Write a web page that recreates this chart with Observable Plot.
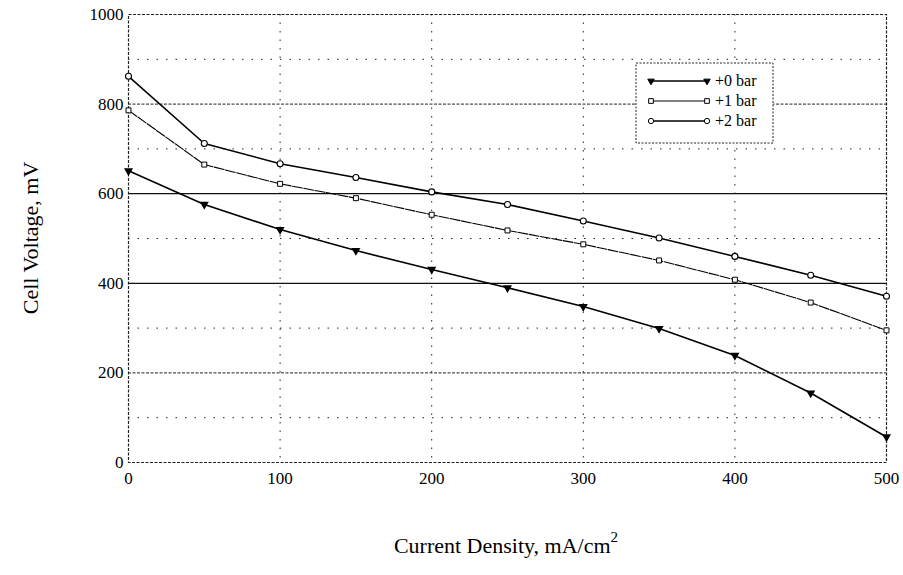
<!DOCTYPE html>
<html><head><meta charset="utf-8">
<script src="https://cdn.jsdelivr.net/npm/d3@7"></script>
<script src="https://cdn.jsdelivr.net/npm/@observablehq/plot@0.6"></script>
<style>body{margin:0;background:#fff}</style>
</head><body><div id="chart"></div>
<script>
const currentDensity = [0, 50, 100, 150, 200, 250, 300, 350, 400, 450, 500];
const bar0 = [651, 576, 520, 473, 431, 390, 348, 299, 239, 155, 57];
const bar1 = [786, 665, 622, 590, 553, 518, 487, 451, 408, 357, 295];
const bar2 = [862, 712, 667, 636, 604, 576, 539, 501, 460, 418, 371];
const seriesNames = ["+0 bar", "+1 bar", "+2 bar"];
const xTicks = [0, 100, 200, 300, 400, 500];
const yTicks = [0, 200, 400, 600, 800, 1000];
const solidGrid = [400, 600];
const denseGrid = [200, 800];
const sparseGrid = [100, 300, 500, 700, 900];
const xGrid = [100, 200, 300, 400];

const rows = [];
[bar0, bar1, bar2].forEach((arr, s) => arr.forEach((v, i) => rows.push({x: currentDensity[i], y: v, s: seriesNames[s]})));

const font = "'Liberation Serif', 'DejaVu Serif', serif";
const plot = Plot.plot({
  width: 903, height: 575,
  marginLeft: 128, marginRight: 17, marginTop: 14, marginBottom: 113,
  style: {fontFamily: font, fontSize: "17px", background: "#fff", color: "#000"},
  x: {domain: [0, 500], label: null},
  y: {domain: [0, 1000], label: null},
  marks: [
    Plot.ruleY(sparseGrid, {stroke: "#222", strokeWidth: 1, strokeDasharray: "1.5,8"}),
    Plot.ruleY(denseGrid, {stroke: "#222", strokeWidth: 1, strokeDasharray: "3,1.5"}),
    Plot.ruleY(solidGrid, {stroke: "#111", strokeWidth: 1.2}),
    Plot.ruleX(xGrid, {stroke: "#222", strokeWidth: 1, strokeDasharray: "1.5,7"}),
    Plot.frame({stroke: "#222", strokeWidth: 1.2, strokeDasharray: "3,1.5"}),
    Plot.line(rows.filter(d => d.s === seriesNames[0]), {x: "x", y: "y", stroke: "#000", strokeWidth: 1.6}),
    Plot.line(rows.filter(d => d.s === seriesNames[1]), {x: "x", y: "y", stroke: "#000", strokeWidth: 1.1, strokeDasharray: "10,1.5"}),
    Plot.line(rows.filter(d => d.s === seriesNames[2]), {x: "x", y: "y", stroke: "#000", strokeWidth: 1.6}),
    Plot.dot(rows.filter(d => d.s === seriesNames[0]), {x: "x", y: "y", symbol: "triangle", rotate: 180, r: 2.4, fill: "#000", stroke: "#000"}),
    Plot.dot(rows.filter(d => d.s === seriesNames[1]), {x: "x", y: "y", symbol: "square", r: 2.8, fill: "#fff", stroke: "#000", strokeWidth: 1}),
    Plot.dot(rows.filter(d => d.s === seriesNames[2]), {x: "x", y: "y", symbol: "circle", r: 3, fill: "#fff", stroke: "#000", strokeWidth: 1.1}),
    Plot.axisX({ticks: xTicks, tickSize: 0, tickPadding: 9, tickFormat: d => String(d), label: null}),
    Plot.axisY({ticks: yTicks, tickSize: 0, tickPadding: 5, tickFormat: d => String(d), label: null})
  ]
});
document.getElementById("chart").appendChild(plot);

const svg = d3.select(plot);
svg.selectAll("g[aria-label='x-axis tick label'] text, g[aria-label='y-axis tick label'] text").attr("font-size", 17);
// axis labels
svg.append("text").attr("transform", "translate(38,238) rotate(-90)")
  .attr("text-anchor", "middle").attr("font-family", font).attr("font-size", 22).attr("fill", "#000")
  .text("Cell Voltage, mV");
const xl = svg.append("text").attr("x", 506).attr("y", 553).attr("text-anchor", "middle")
  .attr("font-family", font).attr("font-size", 22).attr("fill", "#000");
xl.append("tspan").text("Current Density, mA/cm");
xl.append("tspan").attr("dy", -11).attr("font-size", 15).text("2");

// legend
const lg = svg.append("g").attr("font-family", font).attr("font-size", 16);
lg.append("rect").attr("x", 636).attr("y", 63).attr("width", 137).attr("height", 80)
  .attr("fill", "#fff").attr("stroke", "#222").attr("stroke-dasharray", "2,1.5");
const legY = [81, 101, 121];
const sym = [d3.symbolTriangle, d3.symbolSquare, d3.symbolCircle];
seriesNames.forEach((name, i) => {
  const y = legY[i];
  lg.append("line").attr("x1", 651).attr("x2", 707).attr("y1", y).attr("y2", y)
    .attr("stroke", "#000").attr("stroke-width", i === 1 ? 1.1 : 1.6);
  [651, 707].forEach(cx => {
    lg.append("path").attr("d", d3.symbol(sym[i], i === 0 ? 18 : 22)())
      .attr("transform", `translate(${cx},${y})` + (i === 0 ? " rotate(180)" : ""))
      .attr("fill", i === 0 ? "#000" : "#fff").attr("stroke", "#000");
  });
  lg.append("text").attr("x", 715).attr("y", y + 5).attr("text-anchor", "start").attr("fill", "#000").text(name);
});
</script></body></html>
